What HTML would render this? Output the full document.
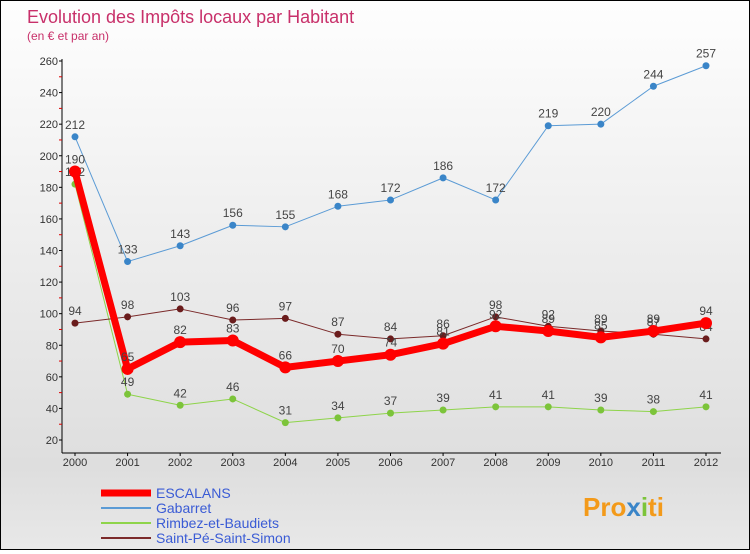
<!DOCTYPE html>
<html><head><meta charset="utf-8"><style>
body{margin:0;width:750px;height:550px;overflow:hidden;font-family:"Liberation Sans",sans-serif}
#c{position:absolute;left:0;top:0;width:748px;height:548px;border:1px solid #000;background:linear-gradient(#fefefe,#dedede 85%,#e8e8e8)}
</style></head><body>
<div id="c">
<svg id="s" width="748" height="548" xmlns="http://www.w3.org/2000/svg">
<text x="26" y="22" font-size="18" fill="#c8306a">Evolution des Impôts locaux par Habitant</text>
<text x="26" y="39" font-size="12" fill="#c8306a">(en € et par an)</text>
<g id="g"></g>
</svg></div>
<script>
const years=["2000","2001","2002","2003","2004","2005","2006","2007","2008","2009","2010","2011","2012"];
const yTicks=[20,40,60,80,100,120,140,160,180,200,220,240,260];
const escalans=[190,65,82,83,66,70,74,81,92,89,85,89,94];
const gabarret=[212,133,143,156,155,168,172,186,172,219,220,244,257];
const rimbez=[182,49,42,46,31,34,37,39,41,41,39,38,41];
const saintpe=[94,98,103,96,97,87,84,86,98,92,89,87,84];
const NS="http://www.w3.org/2000/svg";
const g=document.getElementById('g');
const xs=i=>74+i*(705-74)/12;
const ys=v=>439-(v-20)*(439-60)/240;
function mk(t,a,p){const e=document.createElementNS(NS,t);for(const k in a)e.setAttribute(k,a[k]);(p||g).appendChild(e);return e;}
let ax=mk('line',{x1:61,y1:58,x2:61,y2:452,stroke:'#000'});


let bx=mk('line',{x1:61,y1:452,x2:720,y2:452,stroke:'#000'});


yTicks.forEach(v=>{
 let t=mk('text',{x:57,y:ys(v)+4,'font-size':11,'text-anchor':'end',fill:'#333'});t.textContent=v;
 
 
 mk('line',{x1:58,y1:ys(v),x2:61,y2:ys(v),stroke:'#000'});
 if(v<260) mk('line',{x1:58,y1:ys(v+10),x2:61,y2:ys(v+10),stroke:'#d00'});
});
years.forEach((y,i)=>{
 let t=mk('text',{x:xs(i),y:465,'font-size':11,'text-anchor':'middle',fill:'#333'});t.textContent=y;
 
 
 mk('line',{x1:xs(i),y1:452,x2:xs(i),y2:455,stroke:'#000'});
});
function series(d,col,w,r,name,dot){
 const sg=mk('g',{});
 
 
 mk('polyline',{points:d.map((v,i)=>xs(i)+','+ys(v)).join(' '),fill:'none',stroke:col,'stroke-width':w,'stroke-linejoin':'round'},sg);
 d.forEach((v,i)=>{
  let c=mk('circle',{cx:xs(i),cy:ys(v),r:r,fill:dot},sg);
  
  
  let t=mk('text',{x:xs(i),y:ys(v)-8,'font-size':12,'text-anchor':'middle',fill:'#444'},sg);t.textContent=v;
 });
}
series(gabarret,'#5b9bd5',1,3.5,'gabarret','#3a85c8');
series(rimbez,'#8ed44a',1,3.5,'rimbez','#7cc43a');
series(saintpe,'#7b2a2a',1,3.5,'saint-pe','#6a1c1c');
series(escalans,'#f00',7,6,'escalans','#f00');
const leg=[["ESCALANS","#f00",7],["Gabarret","#5b9bd5",2],["Rimbez-et-Baudiets","#8ed44a",2],["Saint-Pé-Saint-Simon","#7b2a2a",2]];
leg.forEach((l,i)=>{
 const y=492+i*15;
 const lg=mk('g',{});
 
 
 mk('line',{x1:100,y1:y,x2:150,y2:y,stroke:l[1],'stroke-width':l[2]},lg);
 let t=mk('text',{x:155,y:y+5,'font-size':14,fill:'#3a5bd5'},lg);t.textContent=l[0];
});
let p=mk('text',{x:582,y:515,'font-size':26,'font-weight':'bold',fill:'#f39a1a'});
p.innerHTML='<tspan fill="#f39a1a">Pro</tspan><tspan fill="#3a85c8">x</tspan><tspan fill="#7cc43a">i</tspan><tspan fill="#f39a1a">ti</tspan>';


</script>
</body></html>
